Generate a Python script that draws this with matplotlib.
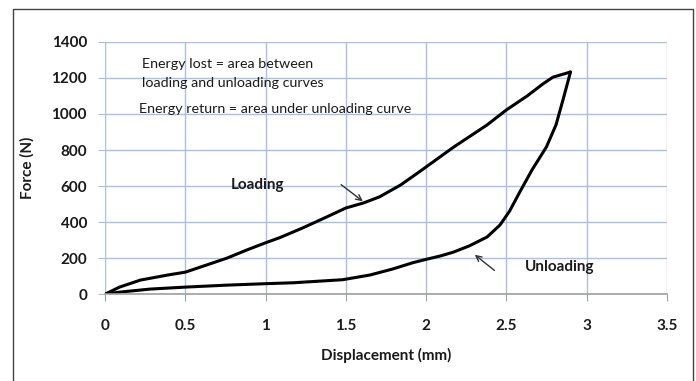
import matplotlib
matplotlib.use('Agg')
from matplotlib import pyplot as plt
from matplotlib.lines import Line2D

plt.rcParams['font.family'] = ['Lato', 'DejaVu Sans']

# loading curve (displacement mm, force N)
load_x = [0, 0.09, 0.22, 0.39, 0.5, 0.63, 0.76, 0.88, 1.0, 1.09, 1.23, 1.38, 1.5, 1.61,
          1.71, 1.84, 1.96, 2.17, 2.38, 2.5, 2.63, 2.73, 2.79, 2.9]
load_f = [0, 39, 78, 106, 122, 161, 200, 244, 285, 314, 367, 428, 478, 506,
          540, 605, 680, 815, 939, 1022, 1100, 1168, 1204, 1233]

# unloading curve
unload_x = [2.9, 2.86, 2.81, 2.75, 2.66, 2.58, 2.52, 2.46, 2.38, 2.27, 2.17, 2.09, 2.0,
            1.92, 1.79, 1.65, 1.48, 1.17, 1.0, 0.76, 0.5, 0.28, 0.09, 0]
unload_f = [1233, 1100, 940, 817, 689, 560, 460, 383, 317, 268, 233, 212, 193,
            175, 139, 106, 80, 63, 58, 50, 39, 28, 11, 0]

xticks = [0, 0.5, 1, 1.5, 2, 2.5, 3, 3.5]
xticklabels = ['0', '0.5', '1', '1.5', '2', '2.5', '3', '3.5']
yticks = [0, 200, 400, 600, 800, 1000, 1200, 1400]

fig = plt.figure(figsize=(6.96, 3.81), dpi=100)
ax = fig.add_axes([0.151, 0.228, 0.807, 0.662])

ax.plot(load_x, load_f, color='black', lw=2.2, solid_joinstyle='round', solid_capstyle='round')
ax.plot(unload_x, unload_f, color='black', lw=2.2, solid_joinstyle='round', solid_capstyle='round')

ax.set_xlim(0, 3.5)
ax.set_ylim(0, 1400)
ax.set_xticks(xticks)
ax.set_xticklabels(xticklabels)
ax.set_yticks(yticks)
ax.grid(True, color='#a9c1e0', lw=1.0)
ax.set_axisbelow(True)

for s in ['top', 'right', 'left']:
    ax.spines[s].set_visible(False)
ax.spines['bottom'].set_color('#a0a0a0')
ax.spines['bottom'].set_linewidth(1.2)
ax.tick_params(axis='x', length=5, color='#a0a0a0', labelsize=11, pad=13, labelcolor='#1a1a1a')
ax.tick_params(axis='y', length=5, color='#a9c1e0', labelsize=11, pad=8, labelcolor='#1a1a1a')
for lab in ax.get_xticklabels() + ax.get_yticklabels():
    lab.set_fontweight('bold')

ax.set_xlabel('Displacement (mm)', fontsize=11, fontweight='bold', labelpad=11, color='#1a1a1a')
ax.set_ylabel('Force (N)', fontsize=11, fontweight='bold', labelpad=12, color='#1a1a1a')

# notes
ax.text(0.23, 1278, 'Energy lost = area between', fontsize=10.3, va='center', color='#1a1a1a')
ax.text(0.23, 1172, 'loading and unloading curves', fontsize=10.3, va='center', color='#1a1a1a')
ax.text(0.21, 1028, 'Energy return = area under unloading curve', fontsize=10.3, va='center', color='#1a1a1a')

ax.text(0.95, 605, 'Loading', fontsize=11, fontweight='bold', ha='center', va='center', color='#1a1a1a')
ax.text(2.83, 150, 'Unloading', fontsize=11, fontweight='bold', ha='center', va='center', color='#1a1a1a')

ax.annotate('', xy=(1.62, 506), xytext=(1.457, 617),
            arrowprops=dict(arrowstyle='->', color='#333333', lw=1.0))
ax.annotate('', xy=(2.29, 228), xytext=(2.44, 122),
            arrowprops=dict(arrowstyle='->', color='#333333', lw=1.0))

# outer frame (left, top, right)
fx = [13 / 696, 13 / 696, 693 / 696, 693 / 696]
fy = [0.0, 1 - 9 / 381, 1 - 9 / 381, 0.0]
fig.add_artist(Line2D(fx, fy, transform=fig.transFigure, color='#444444', lw=1.0))

plt.savefig('out.png', dpi=100)
